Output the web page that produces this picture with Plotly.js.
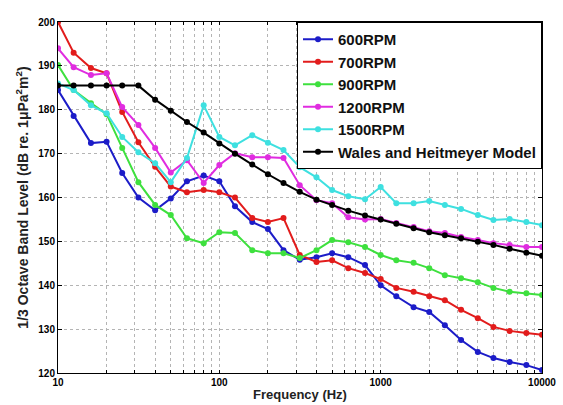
<!DOCTYPE html>
<html><head><meta charset="utf-8">
<script src="https://cdn.plot.ly/plotly-3.0.1.min.js"></script>
<style>html,body{margin:0;padding:0;background:#fff}#chart{width:563px;height:405px}</style>
</head><body><div id="chart"></div>
<script>
const freqs = [10,12.5,16,20,25,31.5,40,50,63,80,100,125,160,200,250,315,400,500,630,800,1000,1250,1600,2000,2500,3150,4000,5000,6300,8000,10000];
const rpm600 = [184.5,178.6,172.4,172.7,165.6,160,157.1,159.8,163.7,165,163.7,158,154.4,152.8,148,145.8,146.4,147.3,146.4,144.6,140,137.5,135,133.9,130.9,127.5,124.8,123.4,122.5,121.8,120.7];
const rpm700 = [200,193,189.5,188.3,179.5,172.6,167,162.5,161.2,161.7,161.2,160,155.3,154.4,155.3,146.9,145.3,145.7,143.9,142.8,141.4,139.4,138.5,137.5,136.6,134.4,132.5,130.5,129.6,129.1,128.7];
const rpm900 = [190.2,184.5,181.5,179,171.3,163.5,158.3,156,150.7,149.6,152.1,151.9,148,147.3,147.3,146.2,148,150.3,149.8,148.7,146.9,145.7,145.1,143.9,142.3,141.6,140.7,139.4,138.5,138.2,137.8];
const rpm1200 = [194,189.7,187.9,188.3,180.6,176.5,171.3,165.7,168.5,163.3,167.4,170.1,169.2,169.2,169,162.8,159.4,158.7,155.5,155,155.1,154.2,153.3,152.3,151.9,151,150.3,149.6,149.2,148.7,148.7];
const rpm1500 = [186,184.5,181,179.2,173.8,170.3,167.8,163.5,169,181,173.8,171.9,174.2,172.5,170.8,166.9,164.6,161.7,160.3,159.6,162.4,158.7,158.7,159.2,158.3,157.4,156,154.9,155.1,154.4,153.7];
const wales = [185.5,185.5,185.5,185.5,185.5,185.5,182.3,179.8,177.2,174.8,172.3,170,167.5,165.3,163.3,161.3,159.5,158.3,157,155.9,155,154,153,152.1,151.4,150.7,149.9,149.2,148.3,147.4,146.7];
const names = ['600RPM','700RPM','900RPM','1200RPM','1500RPM','Wales and Heitmeyer Model'];
const colors = ['#1c1cc8','#e21c1c','#3ee03e','#e02ce0','#3ee0e0','#000000'];
const series = [rpm600,rpm700,rpm900,rpm1200,rpm1500,wales];
const xDecades = [10,100,1000];
const xGridMultipliers = [1,2,3,4,5,6,7,8,9];
const yTicks = [120,130,140,150,160,170,180,190,200];

const xTickVals = [];
const xTickText = [];
for (const p of xDecades) for (const m of xGridMultipliers) { xTickVals.push(p*m); xTickText.push(m===1 ? String(p) : ''); }
xTickVals.push(10000); xTickText.push('10000');

const traces = series.map((ys,i)=>({
  x: freqs, y: ys, name: names[i], type:'scatter', mode:'lines+markers',
  line:{color:colors[i], width:2}, marker:{color:colors[i], size:6, symbol:'circle'}
}));
const ff = 'Liberation Sans, Arial, sans-serif';
const layout = {
  width:563, height:405,
  margin:{l:58, r:21, t:22, b:32},
  paper_bgcolor:'#fff', plot_bgcolor:'#fff',
  font:{family:ff, size:11, color:'#000'},
  showlegend:true,
  legend:{x:1, y:1, xanchor:'right', yanchor:'top', bgcolor:'#fff', bordercolor:'#000', borderwidth:1,
    font:{family:ff, size:15, color:'#111', weight:'bold'}, tracegroupgap:0, itemwidth:30},
  xaxis:{type:'log', range:[1,4], tickmode:'array', tickvals:xTickVals, ticktext:xTickText, tickangle:0,
    showline:true, linecolor:'#000', linewidth:1, mirror:'ticks', ticks:'inside', ticklen:3, tickcolor:'#000',
    showgrid:true, gridcolor:'#b4b4b4', griddash:'dot', gridwidth:1, zeroline:false,
    tickfont:{family:ff, size:10, color:'#000', weight:'bold'},
    title:{text:'Frequency (Hz)', standoff:2, font:{family:ff, size:13, color:'#222', weight:'bold'}}},
  yaxis:{range:[120,200], tickvals:yTicks,
    showline:true, linecolor:'#000', linewidth:1, mirror:'ticks', ticks:'inside', ticklen:4, tickcolor:'#000',
    showgrid:true, gridcolor:'#b4b4b4', griddash:'dot', gridwidth:1, zeroline:false,
    tickfont:{family:ff, size:10, color:'#000', weight:'bold'},
    title:{text:'1/3 Octave Band Level (dB re. 1μPa<sup>2</sup>m<sup>2</sup>)', standoff:6, font:{family:ff, size:14, color:'#222', weight:'bold'}}}
};
Plotly.newPlot('chart', traces, layout, {displayModeBar:false, staticPlot:true});
</script></body></html>
